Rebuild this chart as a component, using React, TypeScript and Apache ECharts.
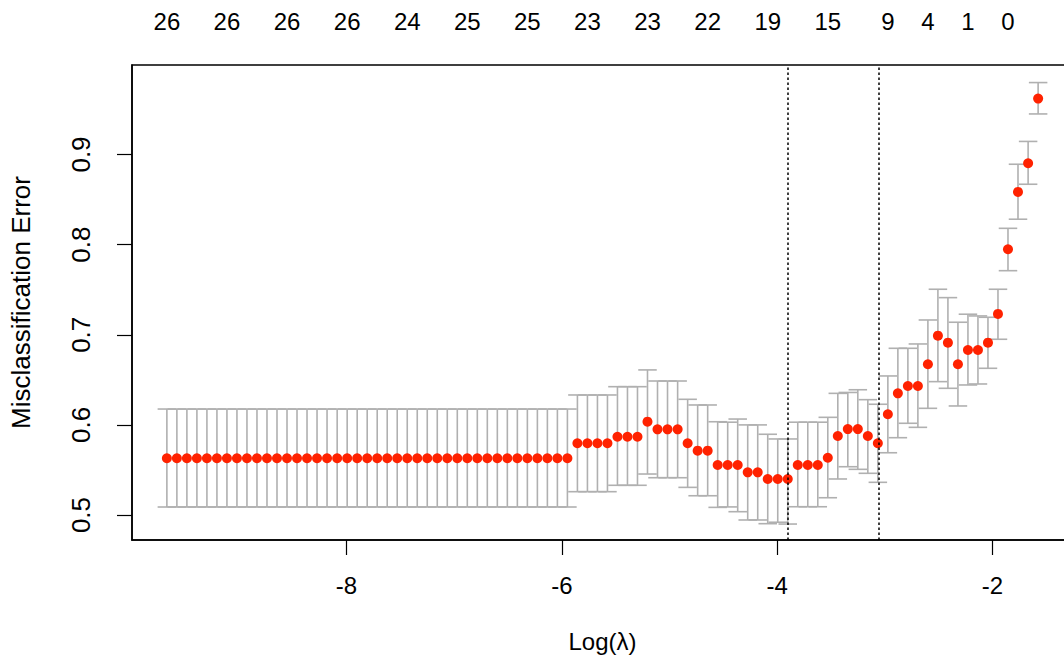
import React, { useEffect, useRef } from "react";
import * as echarts from "echarts";

// log(lambda) for each fitted lambda (left to right)
const logLambda = [
  -9.669, -9.576, -9.483, -9.39, -9.297, -9.204, -9.111, -9.018, -8.925, -8.832,
  -8.739, -8.646, -8.553, -8.46, -8.367, -8.274, -8.181, -8.087, -7.994, -7.901,
  -7.808, -7.715, -7.622, -7.529, -7.436, -7.343, -7.25, -7.157, -7.064, -6.971,
  -6.878, -6.785, -6.692, -6.599, -6.506, -6.413, -6.32, -6.227, -6.134, -6.041,
  -5.948, -5.855, -5.762, -5.669, -5.576, -5.483, -5.39, -5.297, -5.204, -5.111,
  -5.018, -4.924, -4.831, -4.738, -4.645, -4.552, -4.459, -4.366, -4.273, -4.18,
  -4.087, -3.994, -3.901, -3.808, -3.715, -3.622, -3.529, -3.436, -3.343, -3.25,
  -3.157, -3.064, -2.971, -2.878, -2.785, -2.692, -2.599, -2.506, -2.413, -2.32,
  -2.227, -2.134, -2.041, -1.948, -1.855, -1.762, -1.668, -1.575,
];

// mean cross-validated misclassification error
const cvm = [
  0.563, 0.563, 0.563, 0.563, 0.563, 0.563, 0.563, 0.563, 0.563, 0.563,
  0.563, 0.563, 0.563, 0.563, 0.563, 0.563, 0.563, 0.563, 0.563, 0.563,
  0.563, 0.563, 0.563, 0.563, 0.563, 0.563, 0.563, 0.563, 0.563, 0.563,
  0.563, 0.563, 0.563, 0.563, 0.563, 0.563, 0.563, 0.563, 0.563, 0.563,
  0.563, 0.5796, 0.5796, 0.5796, 0.5796, 0.5869, 0.5869, 0.5869, 0.6036, 0.5951,
  0.5951, 0.5951, 0.5796, 0.5714, 0.5714, 0.5555, 0.5555, 0.5555, 0.5474, 0.5474,
  0.54, 0.54, 0.54, 0.5555, 0.5555, 0.5555, 0.5636, 0.5877, 0.5954, 0.5954,
  0.5877, 0.5796, 0.6118, 0.635, 0.6432, 0.6432, 0.6673, 0.699, 0.6912, 0.6673,
  0.6831, 0.6831, 0.6912, 0.7231, 0.7949, 0.8585, 0.8903, 0.962,
];

// upper error bar
const cvUp = [
  0.6176, 0.6176, 0.6176, 0.6176, 0.6176, 0.6176, 0.6176, 0.6176, 0.6176, 0.6176,
  0.6176, 0.6176, 0.6176, 0.6176, 0.6176, 0.6176, 0.6176, 0.6176, 0.6176, 0.6176,
  0.6176, 0.6176, 0.6176, 0.6176, 0.6176, 0.6176, 0.6176, 0.6176, 0.6176, 0.6176,
  0.6176, 0.6176, 0.6176, 0.6176, 0.6176, 0.6176, 0.6176, 0.6176, 0.6176, 0.6176,
  0.6176, 0.6332, 0.6332, 0.6332, 0.6332, 0.6424, 0.6424, 0.6424, 0.661, 0.6487,
  0.6487, 0.6487, 0.6284, 0.6221, 0.6221, 0.6035, 0.603, 0.6065, 0.6, 0.6,
  0.5896, 0.5844, 0.5844, 0.603, 0.603, 0.603, 0.6084, 0.635, 0.636, 0.639,
  0.628, 0.6229, 0.6543, 0.685, 0.685, 0.6898, 0.7164, 0.7505, 0.7412, 0.7139,
  0.7228, 0.7209, 0.7194, 0.7505, 0.8181, 0.8892, 0.9145, 0.9798,
];

// lower error bar
const cvLo = [
  0.5089, 0.5089, 0.5089, 0.5089, 0.5089, 0.5089, 0.5089, 0.5089, 0.5089, 0.5089,
  0.5089, 0.5089, 0.5089, 0.5089, 0.5089, 0.5089, 0.5089, 0.5089, 0.5089, 0.5089,
  0.5089, 0.5089, 0.5089, 0.5089, 0.5089, 0.5089, 0.5089, 0.5089, 0.5089, 0.5089,
  0.5089, 0.5089, 0.5089, 0.5089, 0.5089, 0.5089, 0.5089, 0.5089, 0.5089, 0.5089,
  0.5089, 0.5259, 0.5259, 0.5259, 0.5259, 0.533, 0.533, 0.533, 0.5455, 0.5414,
  0.5414, 0.5414, 0.5307, 0.5214, 0.5214, 0.5085, 0.509, 0.5037, 0.4945, 0.4945,
  0.4904, 0.492, 0.49, 0.5092, 0.5092, 0.5092, 0.5192, 0.54, 0.5536, 0.5507,
  0.5463, 0.5363, 0.5691, 0.5858, 0.6018, 0.5973, 0.6184, 0.648, 0.6406, 0.621,
  0.6443, 0.6454, 0.6628, 0.695, 0.7711, 0.8282, 0.867, 0.945,
];

// number of non-zero coefficients shown along the top
const topAt = [
  -9.669, -9.111, -8.553, -7.994, -7.436, -6.878, -6.32, -5.762, -5.204, -4.645,
  -4.087, -3.529, -2.971, -2.599, -2.227, -1.855,
];
const topLabels = ["26", "26", "26", "26", "24", "25", "25", "23", "23", "22", "19", "15", "9", "4", "1", "0"];

const xTicks = [-8, -6, -4, -2];
const yTicks = [0.5, 0.6, 0.7, 0.8, 0.9];
const lambdaMin = -3.901;
const lambda1se = -3.064;

const X_MIN = -9.993;
const X_MAX = -1.251;
const Y_MIN = 0.4723;
const Y_MAX = 0.9993;

const FONT = "'Liberation Sans', Arial, Helvetica, sans-serif";
const FS = 24;
const FSY = 26;

const CANVAS_W = 1084;

export default function App() {
  const ref = useRef<HTMLDivElement>(null);

  useEffect(() => {
    if (!ref.current) return;
    const chart = echarts.init(ref.current, null, { renderer: "svg" });
    const errData = logLambda.map((x, i) => [x, cvLo[i], cvUp[i]]);
    const ptData = logLambda.map((x, i) => [x, cvm[i]]);

    chart.setOption({
      animation: false,
      backgroundColor: "#ffffff",
      textStyle: { fontFamily: FONT, color: "#000" },
      grid: {
        left: 131.5,
        top: 65,
        width: 941.5,
        height: 475,
        show: true,
        borderColor: "#000",
        borderWidth: 1.5,
        backgroundColor: "transparent",
      },
      xAxis: [
        {
          type: "value",
          min: X_MIN,
          max: X_MAX,
          position: "bottom",
          name: "Log(λ)",
          nameLocation: "middle",
          nameGap: 89,
          nameTextStyle: { fontFamily: FONT, fontSize: FS, color: "#000" },
          axisLine: { show: true, onZero: false, lineStyle: { color: "#000", width: 1.5 } },
          axisTick: {
            show: true,
            inside: false,
            length: 15,
            customValues: xTicks,
            lineStyle: { color: "#000", width: 1.2 },
          },
          axisLabel: {
            customValues: xTicks,
            margin: 33,
            fontFamily: FONT,
            fontSize: FS,
            color: "#000",
          },
          splitLine: { show: false },
        },
        {
          type: "value",
          min: X_MIN,
          max: X_MAX,
          position: "top",
          axisLine: { show: false },
          axisTick: { show: false },
          axisLabel: {
            customValues: topAt,
            margin: 32,
            fontFamily: FONT,
            fontSize: FS,
            color: "#000",
            formatter: (v: number) => {
              const idx = topAt.findIndex((t) => Math.abs(t - v) < 1e-6);
              return idx >= 0 ? topLabels[idx] : "";
            },
          },
          splitLine: { show: false },
        },
      ],
      yAxis: {
        type: "value",
        min: Y_MIN,
        max: Y_MAX,
        name: "Misclassification Error",
        nameLocation: "middle",
        nameGap: 98,
        nameRotate: 90,
        nameTextStyle: { fontFamily: FONT, fontSize: FSY, color: "#000" },
        axisLine: { show: true, onZero: false, lineStyle: { color: "#000", width: 1.5 } },
        axisTick: {
          show: true,
          inside: false,
          length: 15,
          customValues: yTicks,
          lineStyle: { color: "#000", width: 1.2 },
        },
        axisLabel: {
          customValues: yTicks,
          rotate: 90,
          margin: 38,
          fontFamily: FONT,
          fontSize: FSY,
          color: "#000",
          formatter: (v: number) => v.toFixed(1),
        },
        splitLine: { show: false },
      },
      series: [
        {
          type: "custom",
          name: "errorbars",
          xAxisIndex: 0,
          data: errData,
          encode: { x: 0, y: [1, 2] },
          clip: false,
          renderItem: (params: any, api: any) => {
            const x = api.value(0);
            const lo = api.value(1);
            const hi = api.value(2);
            const pHi = api.coord([x, hi]);
            const pLo = api.coord([x, lo]);
            const half = api.size([0.086, 0])[0];
            const style = { stroke: "#b0b0b0", lineWidth: 1.6 };
            return {
              type: "group",
              children: [
                { type: "line", shape: { x1: pHi[0], y1: pHi[1], x2: pLo[0], y2: pLo[1] }, style },
                { type: "line", shape: { x1: pHi[0] - half, y1: pHi[1], x2: pHi[0] + half, y2: pHi[1] }, style },
                { type: "line", shape: { x1: pLo[0] - half, y1: pLo[1], x2: pLo[0] + half, y2: pLo[1] }, style },
              ],
            };
          },
          z: 1,
        },
        {
          type: "scatter",
          name: "cvm",
          xAxisIndex: 0,
          data: ptData,
          symbol: "circle",
          symbolSize: 10,
          itemStyle: { color: "#ff2200", opacity: 1 },
          z: 2,
          markLine: {
            silent: true,
            symbol: "none",
            label: { show: false },
            lineStyle: { color: "#000", width: 1.5, type: [2.5, 2.5] },
            data: [{ xAxis: lambdaMin }, { xAxis: lambda1se }],
            z: 3,
          },
        },
      ],
    });

    return () => {
      chart.dispose();
    };
  }, []);

  return (
    <div
      style={{
        position: "fixed",
        left: 0,
        top: 0,
        width: 1064,
        height: 662,
        overflow: "hidden",
        background: "#fff",
      }}
    >
      <div ref={ref} style={{ width: CANVAS_W, height: 662 }} />
    </div>
  );
}
